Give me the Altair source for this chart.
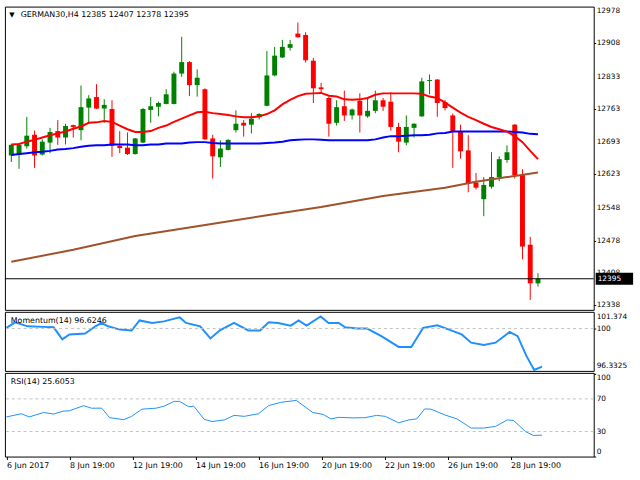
import json
import altair as alt
import pandas as pd

FONT = "DejaVu Sans"

# ---------------- data ----------------
bar_index = list(range(69))
open_ = [12663, 12664, 12683, 12708, 12665, 12691, 12716, 12702, 12729, 12718,
         12767, 12790, 12765, 12764, 12684, 12680, 12666, 12691, 12762, 12769,
         12775, 12775, 12841, 12866, 12816, 12807, 12700, 12659, 12675, 12718,
         12734, 12730, 12746, 12771, 12837, 12876, 12897, 12928, 12925, 12869,
         12811, 12788, 12734, 12770, 12750, 12782, 12748, 12760, 12783, 12780,
         12725, 12691, 12723, 12748, 12825, 12828, 12779, 12750, 12715, 12674,
         12604, 12568, 12595, 12616, 12653, 12730, 12621, 12469, 12385]
high = [12688, 12690, 12747, 12717, 12698, 12723, 12740, 12732, 12730, 12815,
        12794, 12818, 12785, 12783, 12716, 12713, 12701, 12766, 12790, 12780,
        12807, 12845, 12921, 12868, 12850, 12809, 12708, 12696, 12698, 12761,
        12740, 12755, 12755, 12890, 12899, 12914, 12914, 12952, 12931, 12875,
        12821, 12791, 12783, 12804, 12765, 12798, 12788, 12804, 12788, 12800,
        12734, 12750, 12733, 12832, 12839, 12829, 12784, 12754, 12730, 12707,
        12625, 12616, 12670, 12661, 12685, 12731, 12633, 12486, 12407]
low = [12649, 12634, 12678, 12636, 12663, 12668, 12686, 12687, 12702, 12696,
       12734, 12764, 12734, 12660, 12668, 12664, 12665, 12690, 12734, 12748,
       12774, 12774, 12834, 12792, 12791, 12697, 12613, 12638, 12674, 12713,
       12704, 12711, 12741, 12770, 12835, 12875, 12891, 12919, 12865, 12777,
       12798, 12704, 12728, 12738, 12741, 12713, 12745, 12755, 12760, 12717,
       12670, 12685, 12702, 12747, 12796, 12747, 12761, 12636, 12656, 12583,
       12589, 12531, 12591, 12607, 12647, 12613, 12437, 12349, 12378]
close = [12686, 12686, 12706, 12663, 12693, 12714, 12702, 12727, 12725, 12768,
         12787, 12765, 12773, 12684, 12679, 12666, 12700, 12764, 12770, 12777,
         12796, 12841, 12866, 12816, 12832, 12698, 12661, 12678, 12697, 12732,
         12728, 12743, 12753, 12837, 12880, 12899, 12905, 12920, 12870, 12809,
         12807, 12732, 12768, 12750, 12763, 12750, 12760, 12783, 12769, 12725,
         12693, 12725, 12732, 12824, 12827, 12777, 12766, 12715, 12672, 12602,
         12593, 12599, 12616, 12655, 12670, 12620, 12465, 12385, 12395]

ma_red = [12687, 12688, 12693, 12697, 12702, 12707, 12711, 12715, 12721, 12726,
          12734, 12735, 12738, 12736, 12728, 12720, 12714, 12714, 12716, 12723,
          12728, 12736, 12743, 12750, 12757, 12758, 12755, 12753, 12751, 12748,
          12746, 12746, 12748, 12753, 12761, 12774, 12784, 12792, 12797, 12798,
          12799, 12793, 12791, 12785, 12784, 12785, 12788, 12795, 12798, 12798,
          12798, 12798, 12798, 12797, 12791, 12788, 12778, 12767, 12756, 12747,
          12740, 12732, 12725, 12720, 12715, 12705, 12692, 12673, 12655]
ma_blue = [12664, 12666, 12668, 12670, 12671, 12673, 12676, 12677, 12679, 12682,
           12684, 12685, 12685, 12687, 12687, 12687, 12685, 12685, 12687, 12687,
           12689, 12689, 12689, 12691, 12692, 12692, 12690, 12689, 12689, 12689,
           12689, 12689, 12689, 12690, 12691, 12693, 12696, 12697, 12698, 12698,
           12697, 12696, 12696, 12696, 12696, 12696, 12696, 12698, 12702, 12705,
           12705, 12706, 12707, 12707, 12708, 12711, 12712, 12715, 12715, 12715,
           12715, 12715, 12715, 12715, 12715, 12714, 12713, 12710, 12709]
ma_brown_idx = [0, 8, 16, 24, 33, 40, 48, 56, 60, 64, 68]
ma_brown = [12432, 12458, 12488, 12509, 12533, 12551, 12575, 12593, 12606, 12616, 12626]

mom_idx = [0, 1.1, 2.7, 4.7, 6, 7.1, 8, 10, 11.3, 12.1, 12.9, 14.4, 15.9, 16.9, 18.5,
           20, 22, 22.8, 24.6, 25.9, 27.1, 28.9, 30.7, 32.2, 33.3, 34.5, 36.1, 37.1,
           38.1, 39.9, 40.9, 42.2, 43, 44.5, 45.8, 47.6, 49.8, 51.4, 52.9, 54.7, 56.2,
           57.8, 59, 60.6, 62.1, 63.9, 64.9, 66, 67, 68]
mom_val = [100.06, 100.55, 100.2, 100.15, 100.11, 99.04, 99.48, 99.56, 100.2, 100.5,
           100.2, 99.91, 99.83, 100.72, 100.5, 100.64, 100.99, 100.5, 100.2, 99.13,
           99.85, 100.5, 99.83, 99.83, 100.55, 100.5, 100.26, 100.72, 100.26, 101.07,
           100.5, 100.5, 100.11, 100.0, 100.0, 99.33, 98.37, 98.37, 100.06, 100.29,
           99.91, 99.48, 98.75, 98.54, 98.75, 99.71, 99.33, 97.6, 96.3325, 96.6246]

rsi_idx = [0, 1.9, 2.9, 4.7, 6, 7.2, 8, 9.8, 10.8, 12.1, 13.1, 14.9, 15.9, 17.2, 19,
           20, 21.3, 22, 23.1, 23.8, 25.1, 26.1, 27.7, 28.9, 30.2, 32, 33.3, 34.8,
           36.8, 38.9, 40.2, 41.2, 42.2, 44, 45.5, 47, 48.1, 49.8, 51.1, 52.1, 53.1,
           53.9, 55.7, 57.2, 59, 60.6, 62.1, 63.6, 64.4, 65.9, 66.9, 68]
rsi_val = [47.9, 51.8, 47.9, 53.3, 51.4, 55, 55.4, 61.7, 58.6, 58.6, 47, 44.6, 48.6,
           57.4, 58.6, 61, 66.9, 66.9, 60.5, 61, 45, 42.3, 44.3, 49.8, 48.6, 51.8,
           61.7, 65.7, 68.1, 53.3, 51, 45.5, 47.4, 46.7, 47, 49.8, 48.6, 40.7, 44.3,
           45.5, 57.7, 57.4, 50.2, 45.5, 34.3, 34.3, 36.3, 44.3, 43.5, 30, 25.2, 25.6053]

price_ticks = [12978, 12908, 12833, 12763, 12693, 12623, 12548, 12478, 12408, 12338]
mom_top_label = [101.374]
mom_mid_labels = [100]
mom_bottom_label = [96.3325]
rsi_top_label = [100]
rsi_mid_labels = [70, 30]
rsi_bottom_label = [0]
rsi_levels = [30, 70]
x_label_pos = [0, 8, 16, 24, 32, 40, 48, 56, 64]
x_labels = ["6 Jun 2017", "8 Jun 19:00", "12 Jun 19:00", "14 Jun 19:00", "16 Jun 19:00",
            "20 Jun 19:00", "22 Jun 19:00", "26 Jun 19:00", "28 Jun 19:00"]

symbol_title = "GERMAN30,H4  12385 12407 12378 12395"
mom_title = "Momentum(14) 96.6246"
rsi_title = "RSI(14) 25.6053"
current_price = close[-1]

# ---------------- layout ----------------
W = 598
X_DOMAIN = [-0.1875, -0.1875 + W / 8]
PRICE_DOMAIN = [12327.4, 12986.6]
MOM_DOMAIN = [96.245, 101.485]
RSI_DOMAIN = [-0.6, 101.8]
LABEL_X = W + 3


def xenc(axis=None):
    return alt.X("i:Q", scale=alt.Scale(domain=X_DOMAIN, nice=False, zero=False), axis=axis)


def tick_axis(values):
    return alt.Axis(orient="right", values=values, labels=False, ticks=True, tickSize=2,
                    title=None, domain=False, grid=False)


def value_labels(values, scale, baseline, fmt):
    df = pd.DataFrame({"v": values, "t": [format(v, fmt) for v in values]})
    return alt.Chart(df).mark_text(align="left", baseline=baseline, color="black",
                                   font=FONT, fontSize=7.5).encode(
        x=alt.value(LABEL_X), y=alt.Y("v:Q", scale=scale), text="t:N")


ohlc = pd.DataFrame({"i": bar_index, "o": open_, "h": high, "l": low, "c": close})
ohlc["dir"] = ["up" if c >= o else "down" for o, c in zip(open_, close)]
cenc = alt.Color("dir:N", scale=alt.Scale(domain=["up", "down"], range=["#008000", "#ff0000"]), legend=None)

pscale = alt.Scale(domain=PRICE_DOMAIN, nice=False, zero=False)

wick = alt.Chart(ohlc).mark_rule(strokeWidth=1).encode(
    x=xenc(), y=alt.Y("l:Q", scale=pscale, axis=tick_axis(price_ticks)), y2="h:Q", color=cenc)
body = alt.Chart(ohlc).mark_bar(size=5).encode(
    x=xenc(), y=alt.Y("o:Q", scale=pscale), y2="c:Q", color=cenc)

ma_df = pd.DataFrame({"i": bar_index, "red": ma_red, "blue": ma_blue})
brown_df = pd.DataFrame({"i": ma_brown_idx, "v": ma_brown})
line_brown = alt.Chart(brown_df).mark_line(color="#a0522d", strokeWidth=2).encode(
    x=xenc(), y=alt.Y("v:Q", scale=pscale))
line_blue = alt.Chart(ma_df).mark_line(color="#0000ff", strokeWidth=2).encode(
    x=xenc(), y=alt.Y("blue:Q", scale=pscale))
line_red = alt.Chart(ma_df).mark_line(color="#ff0000", strokeWidth=2).encode(
    x=xenc(), y=alt.Y("red:Q", scale=pscale))

price_labels = value_labels(price_ticks, pscale, "middle", "d")
price_line = alt.Chart().mark_rule(color="black", strokeWidth=1).encode(
    y=alt.datum(current_price, scale=pscale))
price_box = alt.Chart().mark_rule(color="black", strokeWidth=12, strokeCap="butt").encode(
    x=alt.value(600), x2=alt.value(638), y=alt.datum(current_price, scale=pscale))
price_txt = alt.Chart().mark_text(align="left", baseline="middle", color="white",
                                  font=FONT, fontSize=7.5).encode(
    x=alt.value(602), y=alt.datum(current_price, scale=pscale), text=alt.value(str(current_price)))
tri = alt.Chart().mark_text(align="center", baseline="middle", color="black",
                            font=FONT, fontSize=7).encode(
    x=alt.value(7), y=alt.value(8.5), text=alt.value("▼"))
title_txt = alt.Chart().mark_text(align="left", baseline="middle", color="black",
                                  font=FONT, fontSize=8).encode(
    x=alt.value(16), y=alt.value(9), text=alt.value(symbol_title))

main = alt.layer(wick, body, line_brown, line_blue, line_red, price_labels, price_line,
                 price_box, price_txt, tri, title_txt).properties(width=W, height=308)

# ---------------- momentum ----------------
mscale = alt.Scale(domain=MOM_DOMAIN, nice=False, zero=False)
mom_df = pd.DataFrame({"i": mom_idx, "v": mom_val})
mom_level = alt.Chart().mark_rule(color="#c0c0c0", strokeWidth=1, strokeDash=[3, 3]).encode(
    y=alt.datum(100, scale=mscale))
mom_line = alt.Chart(mom_df).mark_line(color="#1e90ff", strokeWidth=2).encode(
    x=xenc(),
    y=alt.Y("v:Q", scale=mscale, axis=tick_axis(mom_mid_labels)))
mom_txt = alt.Chart().mark_text(align="left", baseline="middle", color="black",
                                font=FONT, fontSize=8).encode(
    x=alt.value(6), y=alt.value(9.5), text=alt.value(mom_title))
mom = alt.layer(
    mom_line, mom_level, mom_txt,
    value_labels(mom_top_label, mscale, "top", "g"),
    value_labels(mom_mid_labels, mscale, "middle", "g"),
    value_labels(mom_bottom_label, mscale, "bottom", "g"),
).properties(width=W, height=60)

# ---------------- RSI ----------------
rscale = alt.Scale(domain=RSI_DOMAIN, nice=False, zero=False)
rsi_df = pd.DataFrame({"i": rsi_idx, "v": rsi_val})
lvl_df = pd.DataFrame({"lvl": rsi_levels})
rsi_level = alt.Chart(lvl_df).mark_rule(color="#c0c0c0", strokeWidth=1, strokeDash=[3, 3]).encode(
    y=alt.Y("lvl:Q", scale=rscale))
label_expr = json.dumps(x_labels) + "[round(datum.value / 8)]"
xaxis = alt.Axis(values=x_label_pos, labelExpr=label_expr, labelAlign="left", labelOverlap=False,
                 labelFlush=False, tickSize=3, labelPadding=2, labelFontSize=8, title=None)
rsi_line = alt.Chart(rsi_df).mark_line(color="#1e90ff", strokeWidth=1).encode(
    x=xenc(xaxis),
    y=alt.Y("v:Q", scale=rscale, axis=tick_axis(rsi_top_label + rsi_mid_labels + rsi_bottom_label)))
rsi_txt = alt.Chart().mark_text(align="left", baseline="middle", color="black",
                                font=FONT, fontSize=8).encode(
    x=alt.value(6), y=alt.value(9), text=alt.value(rsi_title))
rsi = alt.layer(
    rsi_line, rsi_level, rsi_txt,
    value_labels(rsi_top_label, rscale, "top", "d"),
    value_labels(rsi_mid_labels, rscale, "middle", "d"),
    value_labels(rsi_bottom_label, rscale, "bottom", "d"),
).properties(width=W, height=85)

chart = alt.vconcat(main, mom, rsi, spacing=2, bounds="flush").properties(
    padding={"left": 2, "top": 2, "right": 0, "bottom": 0},
    background="white",
).configure_view(
    stroke="black", strokeWidth=1
).configure_axis(
    labelFont=FONT, labelFontSize=7.5, labelColor="black", tickColor="black",
    tickSize=2, labelPadding=1, domain=False, grid=False
)

chart.save("out.html", embed_options={"renderer": "svg", "actions": False})
